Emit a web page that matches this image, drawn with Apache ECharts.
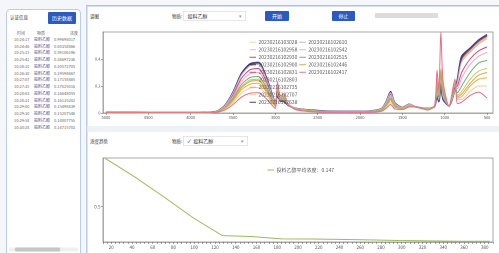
<!DOCTYPE html>
<html>
<head>
<meta charset="utf-8">
<script src="https://cdn.jsdelivr.net/npm/echarts@6/dist/echarts.min.js"></script>
<style>
html,body{margin:0;padding:0;width:499px;height:253px;overflow:hidden;background:#f4f6f9;}
#root{position:absolute;left:0;top:0;width:998px;height:506px;transform:scale(0.5);transform-origin:0 0;
  font-family:"Noto Sans CJK SC","Noto Sans",sans-serif;color:#333;}
.abs{position:absolute;white-space:nowrap;}
.panel{background:#fff;border:2px solid #b9cde6;border-radius:8px;box-sizing:border-box;}
.btn{background:#2c5bbf;color:#fff;font-size:10px;text-align:center;border-radius:2px;}
.sel{border:1px solid #cfcfcf;background:#fff;font-size:10px;box-sizing:border-box;}
.cell{position:absolute;font-size:8px;line-height:13px;overflow:hidden;}
</style>
</head>
<body>
<div id="root">
  <!-- 左侧列表 -->
  <div class="abs panel" style="left:12px;top:18px;width:150px;height:500px;"></div>
  <div class="abs" style="left:20px;top:28px;font-size:9px;">认证信息</div>
  <div class="abs btn" style="left:96px;top:24px;width:56px;height:24px;line-height:24px;">历史数据</div>
  <div id="table" class="abs" style="left:16px;top:58px;width:142px;height:200px;overflow:hidden;"></div>
  <div class="abs" style="left:18px;top:495px;width:138px;height:8px;background:#f0f0f0;"></div>
  <div class="abs" style="left:30px;top:495px;width:90px;height:8px;background:#c6c6c6;border-radius:2px;"></div>

  <!-- 右侧主区域 -->
  <div class="abs" style="left:172px;top:10px;width:830px;height:500px;background:#fff;border-left:3px solid #b9cde6;border-top:3px solid #a9c2e4;box-sizing:border-box;"></div>
  <div class="abs" style="left:180px;top:26px;font-size:9px;">谱图</div>
  <div class="abs" style="left:344px;top:26px;font-size:9px;">物质:</div>
  <div class="abs sel" style="left:366px;top:22px;width:126px;height:19px;line-height:17px;padding-left:8px;">投料乙醇<span style="position:absolute;right:8px;color:#999;">▾</span></div>
  <div class="abs btn" style="left:530px;top:22px;width:48px;height:20px;line-height:20px;">开始</div>
  <div class="abs btn" style="left:664px;top:22px;width:46px;height:20px;line-height:20px;">停止</div>
  <div class="abs" style="left:750px;top:26px;width:126px;height:10px;background:#dcdcdc;"></div>
  <div id="spec" class="abs" style="left:176px;top:50px;width:822px;height:202px;"></div>

  <div class="abs" style="left:175px;top:252px;width:823px;height:12px;background:#eef1f5;"></div>

  <div class="abs" style="left:180px;top:276px;font-size:9px;">浓度趋势</div>
  <div class="abs" style="left:344px;top:276px;font-size:9px;">物质:</div>
  <div class="abs sel" style="left:366px;top:272px;width:130px;height:19px;line-height:17px;padding-left:8px;">✓&nbsp;&nbsp;投料乙醇<span style="position:absolute;right:8px;color:#999;">▾</span></div>
  <div id="trend" class="abs" style="left:176px;top:292px;width:822px;height:214px;"></div>
</div>
<script>
// 采样时间 / 物质 / 浓度
var scanTimes = ['10:24:17', '10:24:46', '10:25:15', '10:25:42', '10:26:10', '10:26:38', '10:27:07',
  '10:27:35', '10:28:03', '10:28:31', '10:29:00', '10:29:30', '10:29:58', '10:30:28'];
var substances = ['投料乙醇', '投料乙醇', '投料乙醇', '投料乙醇', '投料乙醇', '投料乙醇', '投料乙醇',
  '投料乙醇', '投料乙醇', '投料乙醇', '投料乙醇', '投料乙醇', '投料乙醇', '投料乙醇'];
var concentrations = ['0.99698017', '0.80358866', '0.59186196', '0.38697236', '0.20572705', '0.19598667', '0.17158465',
  '0.17025016', '0.16648055', '0.16135202', '0.15498439', '0.15207546', '0.14807755', '0.14715783'];
// 趋势图横轴(秒)
var elapsedSec = [14, 43, 72, 99, 127, 155, 184, 212, 240, 268, 297, 327, 355, 385];

// 谱图波数
var wavenumbers = [5000, 4500, 4000, 3800, 3700, 3600, 3500, 3400, 3300, 3200, 3100, 3050, 3000, 2975, 2940, 2900,
  2850, 2750, 2400, 2000, 1750, 1690, 1640, 1590, 1500, 1420, 1350, 1200, 1120, 1090, 1070, 1045, 1020, 950,
  880, 850, 800, 700, 600, 500];

var s103028 = [.006,.004,.004,.006,.011,.052,.152,.289,.359,.37,.252,.159,.081,.134,.093,.092,.059,.033,.015,.012,.030,.085,.155,.074,.040,.065,.046,.033,.049,.134,.089,.224,.110,.053,.16,.23,.40,.47,.53,.57];
var s102958 = [.005,.004,.004,.006,.011,.051,.150,.285,.354,.365,.248,.157,.080,.137,.094,.093,.060,.032,.015,.012,.029,.084,.153,.073,.040,.064,.047,.032,.050,.140,.092,.236,.114,.054,.17,.23,.39,.46,.52,.56];
var s102930 = [.006,.004,.004,.006,.011,.052,.152,.289,.359,.37,.252,.159,.081,.144,.098,.098,.062,.034,.015,.012,.030,.085,.155,.074,.041,.066,.048,.034,.051,.149,.097,.254,.121,.055,.18,.24,.40,.47,.53,.57];
var s102900 = [.006,.004,.004,.006,.011,.052,.153,.290,.361,.371,.255,.160,.081,.134,.093,.092,.059,.033,.015,.012,.030,.085,.155,.074,.040,.065,.046,.033,.049,.134,.089,.224,.110,.053,.17,.25,.41,.48,.54,.58];
var s102831 = [.005,.004,.004,.005,.010,.046,.135,.257,.320,.33,.224,.142,.073,.156,.101,.104,.063,.031,.013,.011,.026,.076,.139,.066,.038,.062,.047,.031,.051,.175,.108,.27,.139,.054,.19,.20,.30,.40,.46,.49];
var s102803 = [.004,.003,.003,.004,.008,.035,.103,.195,.243,.25,.17,.108,.055,.18,.108,.116,.063,.027,.01,.008,.02,.058,.105,.05,.032,.053,.045,.027,.051,.225,.128,.29,.173,.05,.21,.13,.16,.25,.31,.33];
var s102735 = [.003,.002,.002,.004,.007,.031,.09,.172,.213,.22,.15,.095,.048,.188,.109,.119,.062,.025,.009,.007,.018,.051,.092,.044,.029,.049,.044,.025,.051,.242,.134,.31,.184,.048,.22,.11,.12,.2,.25,.26];
var s102707 = [.003,.002,.002,.003,.006,.027,.078,.148,.184,.19,.129,.082,.042,.208,.117,.131,.066,.024,.008,.006,.015,.044,.08,.038,.028,.047,.045,.024,.053,.278,.151,.33,.21,.049,.23,.1,.1,.16,.2,.2];
var s102638 = [.006,.004,.004,.006,.011,.053,.154,.293,.364,.375,.255,.161,.083,.125,.089,.086,.058,.033,.015,.012,.03,.086,.158,.075,.041,.065,.046,.033,.048,.12,.083,.195,.1,.053,.17,.25,.42,.48,.54,.58];
var s102610 = [.005,.004,.004,.006,.011,.05,.148,.281,.349,.36,.245,.155,.079,.142,.096,.096,.061,.033,.014,.012,.029,.083,.151,.072,.04,.065,.047,.033,.05,.148,.096,.253,.12,.054,.17,.23,.38,.45,.51,.55];
var s102542 = [.005,.003,.003,.005,.009,.042,.123,.234,.291,.30,.204,.129,.066,.16,.101,.105,.061,.029,.012,.01,.024,.069,.126,.06,.035,.058,.045,.029,.05,.186,.111,.28,.146,.051,.2,.18,.26,.36,.42,.45];
var s102515 = [.004,.003,.003,.004,.008,.038,.111,.211,.262,.27,.184,.116,.059,.164,.101,.107,.06,.028,.011,.009,.022,.062,.113,.054,.033,.054,.044,.028,.049,.197,.115,.3,.153,.049,.21,.15,.2,.3,.37,.39];
var s102446 = [.004,.003,.003,.004,.007,.034,.098,.187,.233,.24,.163,.103,.053,.188,.111,.12,.064,.026,.01,.008,.019,.055,.101,.048,.031,.052,.045,.026,.052,.239,.134,.32,.183,.05,.22,.12,.14,.22,.28,.30];
var s102417 = [.002,.002,.002,.002,.005,.021,.062,.117,.146,.15,.102,.065,.033,.23,.126,.143,.068,.022,.006,.005,.012,.035,.063,.03,.025,.044,.045,.022,.055,.318,.168,.598,.238,.048,.25,.07,.08,.13,.155,.11];

// 图例顺序: 最新在前
var spectraList = [s103028, s102958, s102930, s102900, s102831, s102803, s102735, s102707,
  s102638, s102610, s102542, s102515, s102446, s102417];
var lineColors = ['#e9dbab', '#f2c27f', '#c0504d', '#3c3c3c', '#e0407a', '#c5c96a', '#f0ae3c',
  '#f5c99a', '#4b3a8f', '#bdbdbd', '#f3a6cf', '#6db36d', '#d6a94e', '#e8708a'];

var FONT = '"Noto Sans CJK SC", sans-serif';

// 左侧表格
(function () {
  var box = document.getElementById('table');
  var html = '<div class="cell" style="left:18px;top:1px;color:#666;">时间</div>' +
    '<div class="cell" style="left:58px;top:1px;color:#666;">物质</div>' +
    '<div class="cell" style="left:124px;top:1px;color:#666;">浓度</div>';
  for (var i = 0; i < scanTimes.length; i++) {
    var y = 13 + i * 13.5;
    html += '<div class="cell" style="left:12px;top:' + y + 'px;color:#666;">' + scanTimes[i] + '</div>' +
      '<div class="cell" style="left:52px;top:' + y + 'px;color:#2b4e9c;">' + substances[i] + '</div>' +
      '<div class="cell" style="left:92px;top:' + y + 'px;width:50px;color:#666;">' + concentrations[i] + '</div>';
  }
  box.innerHTML = html;
})();

// 谱图
(function () {
  var chart = echarts.init(document.getElementById('spec'));
  var names = [];
  var desc = scanTimes.slice().reverse();
  var series = spectraList.map(function (arr, i) {
    var name = '20230216' + desc[i].replace(/:/g, '');
    names.push(name);
    return {
      name: name,
      type: 'line',
      symbol: 'none',
      smooth: 0.25,
      color: lineColors[i],
      lineStyle: { width: i === 8 ? 3 : 2 },
      data: wavenumbers.map(function (w, k) { return [w, arr[k]]; })
    };
  });
  var ticks = [];
  for (var t = 500; t <= 5000; t += 500) ticks.push(t);
  chart.setOption({
    animation: false,
    grid: { left: 30, top: 14, right: 12, bottom: 26, show: true, borderColor: '#8a8a8a', borderWidth: 1.5 },
    legend: {
      orient: 'vertical', left: 318, top: 24, height: 138, itemGap: 4,
      icon: 'rect', itemWidth: 13, itemHeight: 2, data: names,
      textStyle: { fontSize: 10, lineHeight: 11, color: '#555', fontFamily: FONT }
    },
    xAxis: {
      type: 'value', inverse: true, min: 430, max: 5035,
      axisLine: { lineStyle: { color: '#555' } },
      axisTick: { customValues: ticks, length: 4 },
      axisLabel: {
        customValues: ticks, fontSize: 8, color: '#555', margin: 5, fontFamily: FONT,
        formatter: function (v) { return String(v); }
      },
      splitLine: { show: false }
    },
    yAxis: {
      type: 'value', min: 0, max: 0.6, interval: 0.2,
      axisLine: { show: true, lineStyle: { color: '#555' } },
      axisTick: { show: true, length: 4 },
      axisLabel: { showMaxLabel: false, fontSize: 8, color: '#555', margin: 5, fontFamily: FONT },
      splitLine: { show: false }
    },
    series: series
  });
})();

// 浓度趋势
(function () {
  var chart = echarts.init(document.getElementById('trend'));
  var labels = [], minor = [];
  for (var v = 20; v <= 380; v += 20) labels.push(v);
  for (var m = 12; m <= 388; m += 4) minor.push(m);
  var latest = concentrations[concentrations.length - 1];
  chart.setOption({
    animation: false,
    grid: { left: 30, top: 24, right: 12, bottom: 22, show: true, borderColor: '#8a8a8a', borderWidth: 1.5 },
    legend: {
      left: 354, top: 38, icon: 'rect', itemWidth: 13, itemHeight: 2,
      textStyle: { fontSize: 10, color: '#555', fontFamily: FONT },
      formatter: function (name) { return name + '：' + Number(latest).toFixed(3); }
    },
    xAxis: {
      type: 'value', min: 12, max: 388,
      axisLine: { lineStyle: { color: '#555' } },
      axisTick: { customValues: minor, length: 4 },
      axisLabel: { customValues: labels, fontSize: 9, color: '#555', margin: 6, fontFamily: FONT },
      splitLine: { show: false }
    },
    yAxis: {
      type: 'value', min: 0.14, max: 1.0,
      axisLine: { show: true, lineStyle: { color: '#555' } },
      axisTick: { show: true, customValues: [0.5], length: 4 },
      axisLabel: { customValues: [0.5], fontSize: 9, color: '#555', margin: 5, fontFamily: FONT },
      splitLine: { show: false }
    },
    series: [{
      name: '投料乙醇平均浓度',
      type: 'line',
      symbol: 'none',
      color: '#9bbb59',
      lineStyle: { width: 2 },
      data: elapsedSec.map(function (x, i) { return [x, Number(concentrations[i])]; })
    }]
  });
})();
</script>
</body>
</html>
